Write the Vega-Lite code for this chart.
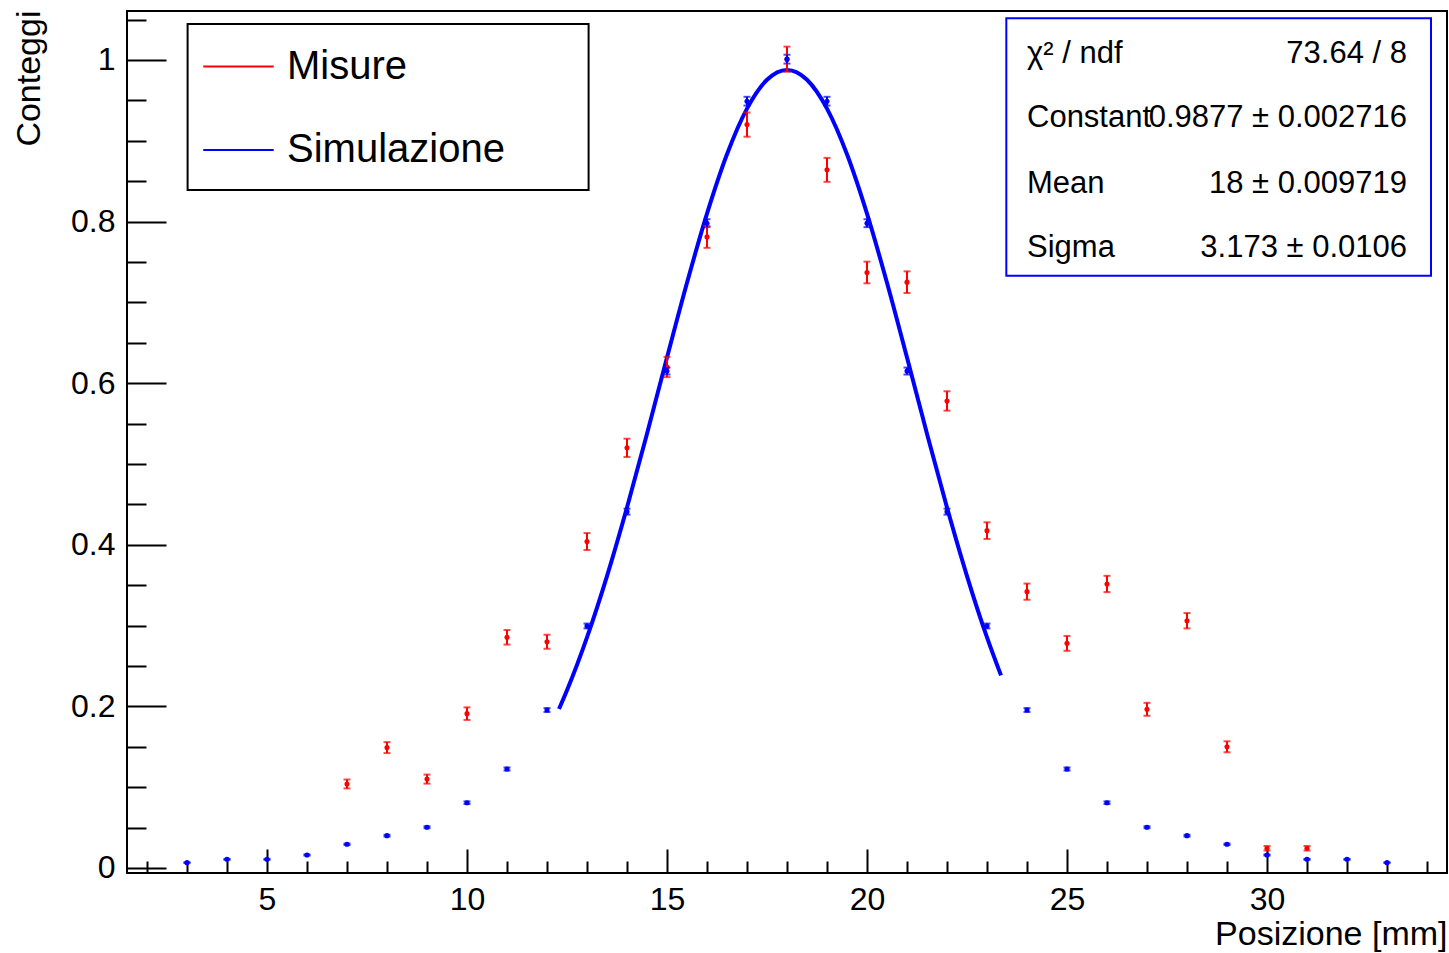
{
  "$schema": "https://vega.github.io/schema/vega-lite/v6.json",
  "width": 1320,
  "height": 862,
  "autosize": {"type": "none"},
  "padding": {"left": 127, "top": 11, "right": 2, "bottom": 80},
  "background": "white",
  "config": {
    "font": "Liberation Sans",
    "view": {"stroke": "black", "strokeWidth": 2},
    "axis": {
      "domain": false, "grid": false, "tickColor": "black", "tickWidth": 2,
      "labelColor": "black", "titleColor": "black", "labelFont": "Liberation Sans",
      "titleFont": "Liberation Sans", "titleFontWeight": "normal",
      "labelFontSize": 32, "titleFontSize": 34
    }
  },
  "datasets": {
    "pts": [
      {"series": "Misure", "x": 7, "y": 0.104, "err": 0.0055},
      {"series": "Misure", "x": 8, "y": 0.149, "err": 0.0068},
      {"series": "Misure", "x": 9, "y": 0.110, "err": 0.0056},
      {"series": "Misure", "x": 10, "y": 0.191, "err": 0.0078},
      {"series": "Misure", "x": 11, "y": 0.2855, "err": 0.009},
      {"series": "Misure", "x": 12, "y": 0.280, "err": 0.0087},
      {"series": "Misure", "x": 13, "y": 0.404, "err": 0.0105},
      {"series": "Misure", "x": 14, "y": 0.520, "err": 0.0113},
      {"series": "Misure", "x": 15, "y": 0.620, "err": 0.0125},
      {"series": "Misure", "x": 16, "y": 0.781, "err": 0.0135},
      {"series": "Misure", "x": 17, "y": 0.920, "err": 0.015},
      {"series": "Misure", "x": 18, "y": 1.001, "err": 0.0155},
      {"series": "Misure", "x": 19, "y": 0.864, "err": 0.0148},
      {"series": "Misure", "x": 20, "y": 0.737, "err": 0.0134},
      {"series": "Misure", "x": 21, "y": 0.725, "err": 0.0134},
      {"series": "Misure", "x": 22, "y": 0.578, "err": 0.012},
      {"series": "Misure", "x": 23, "y": 0.4175, "err": 0.0103},
      {"series": "Misure", "x": 24, "y": 0.342, "err": 0.0100},
      {"series": "Misure", "x": 25, "y": 0.278, "err": 0.0092},
      {"series": "Misure", "x": 26, "y": 0.3515, "err": 0.0101},
      {"series": "Misure", "x": 27, "y": 0.1964, "err": 0.008},
      {"series": "Misure", "x": 28, "y": 0.306, "err": 0.0095},
      {"series": "Misure", "x": 29, "y": 0.150, "err": 0.0068},
      {"series": "Misure", "x": 30, "y": 0.0244, "err": 0.0028},
      {"series": "Misure", "x": 31, "y": 0.0244, "err": 0.0028},
      {"series": "Simulazione", "x": 3, "y": 0.0066, "err": 0.0005},
      {"series": "Simulazione", "x": 4, "y": 0.0107, "err": 0.0006},
      {"series": "Simulazione", "x": 5, "y": 0.0107, "err": 0.0006},
      {"series": "Simulazione", "x": 6, "y": 0.0161, "err": 0.0007},
      {"series": "Simulazione", "x": 7, "y": 0.0293, "err": 0.0009},
      {"series": "Simulazione", "x": 8, "y": 0.040, "err": 0.0011},
      {"series": "Simulazione", "x": 9, "y": 0.0504, "err": 0.0012},
      {"series": "Simulazione", "x": 10, "y": 0.0808, "err": 0.0016},
      {"series": "Simulazione", "x": 11, "y": 0.1225, "err": 0.0019},
      {"series": "Simulazione", "x": 12, "y": 0.1955, "err": 0.0024},
      {"series": "Simulazione", "x": 13, "y": 0.2995, "err": 0.003},
      {"series": "Simulazione", "x": 14, "y": 0.441, "err": 0.0037},
      {"series": "Simulazione", "x": 15, "y": 0.615, "err": 0.0043},
      {"series": "Simulazione", "x": 16, "y": 0.798, "err": 0.0049},
      {"series": "Simulazione", "x": 17, "y": 0.949, "err": 0.0054},
      {"series": "Simulazione", "x": 18, "y": 1.001, "err": 0.0055},
      {"series": "Simulazione", "x": 19, "y": 0.949, "err": 0.0054},
      {"series": "Simulazione", "x": 20, "y": 0.798, "err": 0.0049},
      {"series": "Simulazione", "x": 21, "y": 0.615, "err": 0.0043},
      {"series": "Simulazione", "x": 22, "y": 0.441, "err": 0.0037},
      {"series": "Simulazione", "x": 23, "y": 0.2995, "err": 0.003},
      {"series": "Simulazione", "x": 24, "y": 0.1955, "err": 0.0024},
      {"series": "Simulazione", "x": 25, "y": 0.1225, "err": 0.0019},
      {"series": "Simulazione", "x": 26, "y": 0.0808, "err": 0.0016},
      {"series": "Simulazione", "x": 27, "y": 0.0504, "err": 0.0012},
      {"series": "Simulazione", "x": 28, "y": 0.040, "err": 0.0011},
      {"series": "Simulazione", "x": 29, "y": 0.0293, "err": 0.0009},
      {"series": "Simulazione", "x": 30, "y": 0.0161, "err": 0.0007},
      {"series": "Simulazione", "x": 31, "y": 0.0107, "err": 0.0006},
      {"series": "Simulazione", "x": 32, "y": 0.0107, "err": 0.0006},
      {"series": "Simulazione", "x": 33, "y": 0.0066, "err": 0.0005}
    ],
    "fit": [
      {"fx": 12.3, "fy": 0.1967},
      {"fx": 12.5, "fy": 0.2199},
      {"fx": 13.0, "fy": 0.2854},
      {"fx": 13.5, "fy": 0.3613},
      {"fx": 14.0, "fy": 0.4462},
      {"fx": 14.5, "fy": 0.5375},
      {"fx": 15.0, "fy": 0.6317},
      {"fx": 15.5, "fy": 0.7242},
      {"fx": 16.0, "fy": 0.8098},
      {"fx": 16.5, "fy": 0.8833},
      {"fx": 17.0, "fy": 0.9398},
      {"fx": 17.5, "fy": 0.9755},
      {"fx": 18.0, "fy": 0.9877},
      {"fx": 18.5, "fy": 0.9755},
      {"fx": 19.0, "fy": 0.9398},
      {"fx": 19.5, "fy": 0.8833},
      {"fx": 20.0, "fy": 0.8098},
      {"fx": 20.5, "fy": 0.7242},
      {"fx": 21.0, "fy": 0.6317},
      {"fx": 21.5, "fy": 0.5375},
      {"fx": 22.0, "fy": 0.4462},
      {"fx": 22.5, "fy": 0.3613},
      {"fx": 23.0, "fy": 0.2854},
      {"fx": 23.35, "fy": 0.2384}
    ]
  },
  "layer": [
    {
      "data": {"name": "pts"},
      "mark": {"type": "point", "shape": "circle", "filled": true, "opacity": 1, "strokeWidth": 0, "size": 26},
      "encoding": {
        "x": {
          "field": "x", "type": "quantitative", "title": "Posizione [mm]",
          "scale": {"domain": [1.5, 34.5], "nice": false, "zero": false},
          "axis": {
            "values": [2,3,4,5,6,7,8,9,10,11,12,13,14,15,16,17,18,19,20,21,22,23,24,25,26,27,28,29,30,31,32,33,34],
            "format": "d",
            "labelExpr": "datum.value % 5 === 0 ? datum.label : ''",
            "tickSize": {"condition": {"test": "datum.value % 5 === 0", "value": -24}, "value": -12},
            "labelPadding": 35, "labelBaseline": "top", "labelFlush": false,
            "titleAnchor": "end", "titleAlign": "right", "titleBaseline": "alphabetic",
            "titleX": 1320, "titleY": 71
          }
        },
        "y": {
          "field": "y", "type": "quantitative", "title": "Conteggi",
          "scale": {"domain": [-0.0062, 1.0606], "nice": false, "zero": false},
          "axis": {
            "values": [0,0.05,0.1,0.15,0.2,0.25,0.3,0.35,0.4,0.45,0.5,0.55,0.6,0.65,0.7,0.75,0.8,0.85,0.9,0.95,1,1.05],
            "labelExpr": "round(datum.value*100) % 20 === 0 ? format(datum.value, '~g') : ''",
            "tickSize": {"condition": {"test": "round(datum.value*100) % 20 === 0", "value": -39}, "value": -19},
            "labelPadding": 51, "labelBaseline": "middle", "labelFlush": false,
            "titleAnchor": "end", "titleAngle": -90, "titleAlign": "right", "titleBaseline": "alphabetic",
            "titleX": -88, "titleY": -1
          }
        },
        "color": {
          "field": "series", "type": "nominal",
          "scale": {"domain": ["Misure", "Simulazione"], "range": ["#ff0000", "#0000ff"]}
        }
      }
    },
    {
      "data": {"values": [{"box": "legend"}]},
      "mark": {"type": "rect", "fill": "white", "stroke": "black", "strokeWidth": 2},
      "encoding": {
        "x": {"datum": 3.015, "type": "quantitative"},
        "x2": {"datum": 13.04},
        "y": {"datum": 1.0446, "type": "quantitative"},
        "y2": {"datum": 0.8391}
      }
    },
    {
      "data": {"values": [{"box": "stats"}]},
      "mark": {"type": "rect", "fill": "white", "stroke": "#0000ff", "strokeWidth": 2},
      "encoding": {
        "x": {"datum": 23.483, "type": "quantitative"},
        "x2": {"datum": 34.1},
        "y": {"datum": 1.0516, "type": "quantitative"},
        "y2": {"datum": 0.733}
      }
    },
    {
      "data": {"name": "fit"},
      "mark": {"type": "line", "color": "#0000ff", "strokeWidth": 4, "interpolate": "monotone"},
      "encoding": {
        "x": {"field": "fx", "type": "quantitative", "title": "Posizione [mm]"},
        "y": {"field": "fy", "type": "quantitative", "title": "Conteggi"}
      }
    },
    {
      "data": {"name": "pts"},
      "mark": {"type": "errorbar", "ticks": {"size": 7}, "thickness": 2},
      "encoding": {
        "x": {"field": "x", "type": "quantitative", "title": "Posizione [mm]"},
        "y": {"field": "y", "type": "quantitative", "title": "Conteggi"},
        "yError": {"field": "err"},
        "color": {
          "field": "series", "type": "nominal",
          "scale": {"domain": ["Misure", "Simulazione"], "range": ["#ff0000", "#0000ff"]},
          "legend": {
            "orient": "none", "legendX": 75, "legendY": 19, "title": null,
            "symbolType": "stroke", "symbolSize": 4970, "symbolStrokeWidth": 2,
            "labelFontSize": 40, "labelFont": "Liberation Sans", "labelColor": "black",
            "labelOffset": 12, "rowPadding": 26.5, "padding": 0, "labelLimit": 400
          }
        }
      }
    },
    {
      "data": {"values": [{"t": "χ² / ndf"}]},
      "mark": {"type": "text", "align": "left", "baseline": "alphabetic", "fontSize": 31, "font": "Liberation Sans", "color": "black"},
      "encoding": {"text": {"field": "t"}, "x": {"datum": 24.0, "type": "quantitative"}, "y": {"datum": 0.9967, "type": "quantitative"}}
    },
    {
      "data": {"values": [{"t": "73.64 / 8"}]},
      "mark": {"type": "text", "align": "right", "baseline": "alphabetic", "fontSize": 31, "font": "Liberation Sans", "color": "black"},
      "encoding": {"text": {"field": "t"}, "x": {"datum": 33.5, "type": "quantitative"}, "y": {"datum": 0.9967, "type": "quantitative"}}
    },
    {
      "data": {"values": [{"t": "Constant"}]},
      "mark": {"type": "text", "align": "left", "baseline": "alphabetic", "fontSize": 31, "font": "Liberation Sans", "color": "black"},
      "encoding": {"text": {"field": "t"}, "x": {"datum": 24.0, "type": "quantitative"}, "y": {"datum": 0.9167, "type": "quantitative"}}
    },
    {
      "data": {"values": [{"t": "0.9877 ± 0.002716"}]},
      "mark": {"type": "text", "align": "right", "baseline": "alphabetic", "fontSize": 31, "font": "Liberation Sans", "color": "black"},
      "encoding": {"text": {"field": "t"}, "x": {"datum": 33.5, "type": "quantitative"}, "y": {"datum": 0.9167, "type": "quantitative"}}
    },
    {
      "data": {"values": [{"t": "Mean"}]},
      "mark": {"type": "text", "align": "left", "baseline": "alphabetic", "fontSize": 31, "font": "Liberation Sans", "color": "black"},
      "encoding": {"text": {"field": "t"}, "x": {"datum": 24.0, "type": "quantitative"}, "y": {"datum": 0.8358, "type": "quantitative"}}
    },
    {
      "data": {"values": [{"t": "18 ± 0.009719"}]},
      "mark": {"type": "text", "align": "right", "baseline": "alphabetic", "fontSize": 31, "font": "Liberation Sans", "color": "black"},
      "encoding": {"text": {"field": "t"}, "x": {"datum": 33.5, "type": "quantitative"}, "y": {"datum": 0.8358, "type": "quantitative"}}
    },
    {
      "data": {"values": [{"t": "Sigma"}]},
      "mark": {"type": "text", "align": "left", "baseline": "alphabetic", "fontSize": 31, "font": "Liberation Sans", "color": "black"},
      "encoding": {"text": {"field": "t"}, "x": {"datum": 24.0, "type": "quantitative"}, "y": {"datum": 0.7562, "type": "quantitative"}}
    },
    {
      "data": {"values": [{"t": "3.173 ± 0.0106"}]},
      "mark": {"type": "text", "align": "right", "baseline": "alphabetic", "fontSize": 31, "font": "Liberation Sans", "color": "black"},
      "encoding": {"text": {"field": "t"}, "x": {"datum": 33.5, "type": "quantitative"}, "y": {"datum": 0.7562, "type": "quantitative"}}
    }
  ]
}
